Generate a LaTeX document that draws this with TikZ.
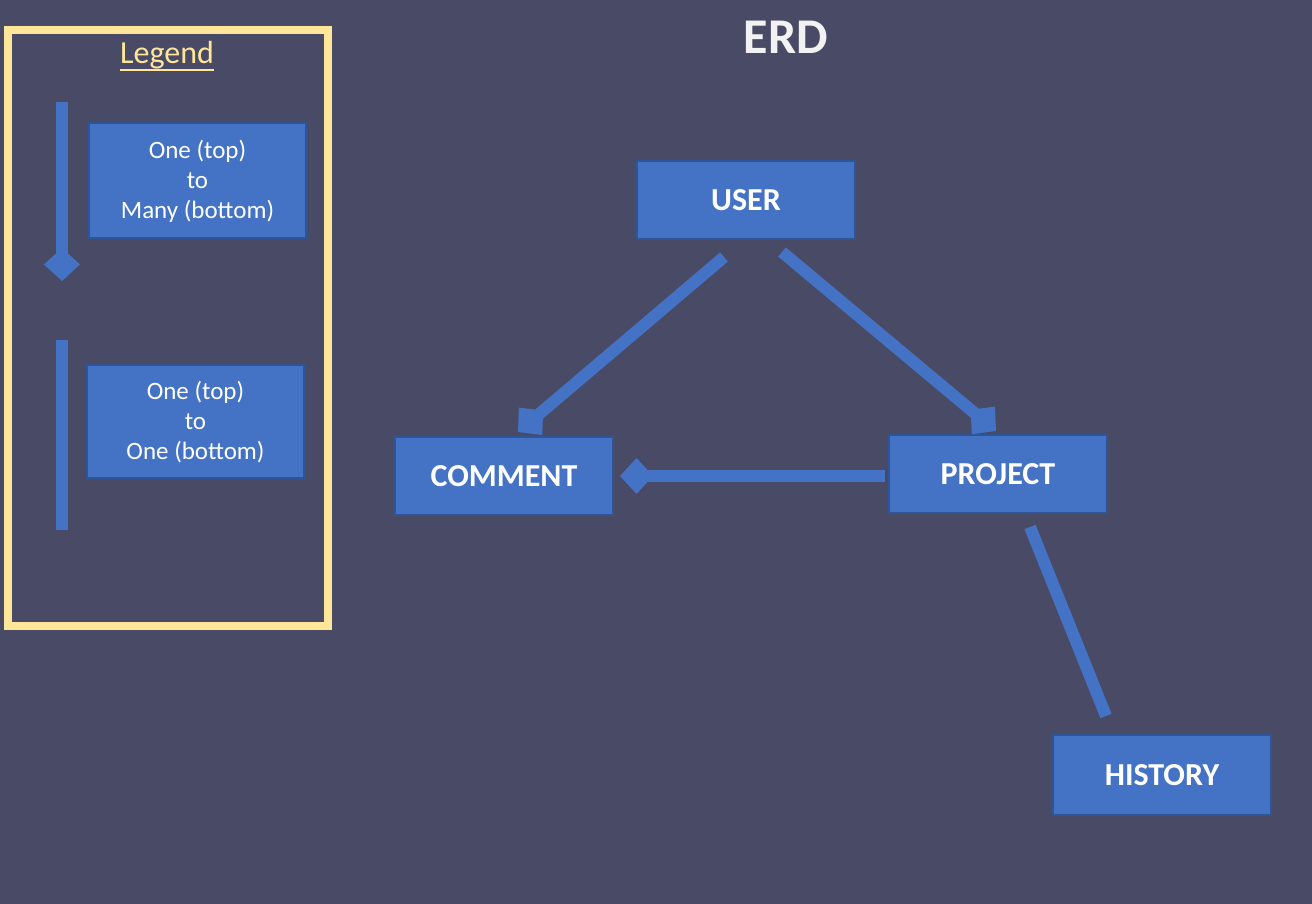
\documentclass[tikz,border=0pt]{standalone}
\usepackage{fontspec}
\setmainfont{Carlito}
\usetikzlibrary{arrows.meta,calc}
\definecolor{bg}{HTML}{494A65}
\definecolor{boxfill}{HTML}{4472C4}
\definecolor{boxline}{HTML}{2F5597}
\definecolor{legendc}{HTML}{FFE699}
\definecolor{titlec}{HTML}{F2F2F2}
\newcommand{\legtext}[1]{\raisebox{-2pt}[\height][\depth]{\begin{tabular}{@{}c@{}}#1\end{tabular}}}
\begin{document}
\begin{tikzpicture}[x=1pt,y=-1pt,
 entity/.style={draw=boxline, line width=2pt, fill=boxfill, text=white, minimum width=218pt, minimum height=78pt, inner sep=0pt, font=\bfseries\fontsize{32}{38}\selectfont},
 legbox/.style={draw=boxline, line width=2pt, fill=boxfill, text=white, minimum width=217pt, inner sep=0pt, font=\fontsize{25}{30}\selectfont},
 link/.style={draw=boxfill, line width=12pt},
 many/.style={link, -{Diamond[length=33pt,width=36pt,line width=0pt]}},
]
\fill[bg] (0,0) rectangle (1312,904);
\useasboundingbox (0,0) rectangle (1312,904);
% legend
\draw[legendc, line width=8pt] (8,30) rectangle (328,626);
\node[inner sep=0pt, text=legendc, font=\fontsize{32}{38}\selectfont, anchor=base] (legtitle) at (167,64) {Legend};
\draw[legendc, line width=2.5pt] ($(legtitle.south west)+(0,0.5)$) -- ($(legtitle.south east)+(0,0.5)$);
\node[legbox, minimum height=115pt] (leg1) at (197.5,180.5) {\legtext{One (top)\\to\\Many (bottom)}};
\node[legbox, minimum height=113pt] (leg2) at (195.5,421.5) {\legtext{One (top)\\to\\One (bottom)}};
\coordinate (l1a) at (62,102);
\coordinate (l1b) at (62,281);
\coordinate (l2a) at (62,340);
\coordinate (l2b) at (62,530);
\draw[many] (l1a) -- (l1b);
\draw[link] (l2a) -- (l2b);
% title
\node[text=titlec, font=\bfseries\fontsize{50}{58}\selectfont] (title) at (786,37) {ERD};
% entities
\node[entity] (user) at (746,200) {USER};
\node[entity] (comment) at (504,476) {COMMENT};
\node[entity] (project) at (998,474) {PROJECT};
\node[entity, minimum height=80pt] (history) at (1162,775) {HISTORY};
% relations
\draw[many] ($(user.south)+(-22,17)$) -- ($(comment.north)+(14,-4)$);
\draw[many] ($(user.south)+(36,12)$) -- ($(project.north)+(-2,-3)$);
\draw[many] ($(project.west)+(-3,2)$) -- ($(comment.east)+(6,0)$);
\draw[link] ($(project.south)+(32,13)$) -- ($(history.north)+(-56,-18)$);
\end{tikzpicture}
\end{document}
